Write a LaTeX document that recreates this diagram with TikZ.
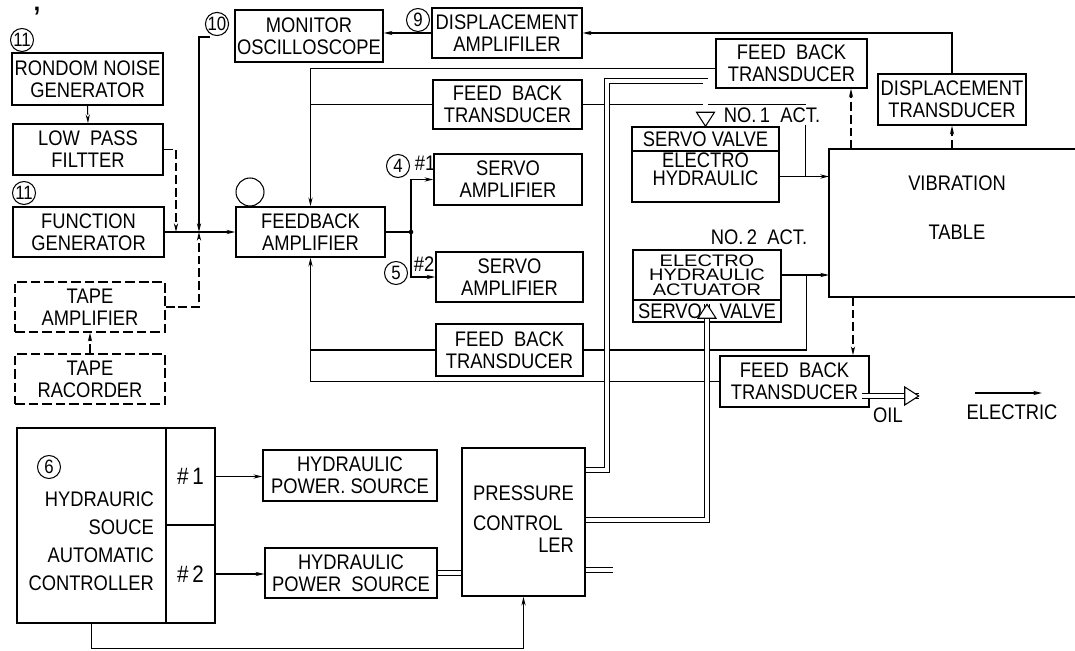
\documentclass[tikz,border=0pt]{standalone}
\usepackage{fontspec}
\newfontfamily\diafont{Liberation Sans}[FakeStretch=0.87]
\newfontfamily\widefont{Liberation Sans}[FakeStretch=1.2]
\usetikzlibrary{positioning,arrows.meta,calc}
\newcommand{\blkfont}{\diafont\fontsize{12}{12.5}\selectfont}

\begin{document}
\begin{tikzpicture}[x=0.02cm, y=-0.02cm,
    blk/.style={draw, line width=0.85pt, align=center, inner sep=0pt, font=\blkfont},
    dblk/.style={blk, dash pattern=on 5.5pt off 2.2pt},
    sz/.style 2 args={minimum width=#1*0.02cm, minimum height=#2*0.02cm},
    num/.style={circle, draw, line width=0.6pt, minimum size=0.46cm, inner sep=0pt, font=\diafont\fontsize{11}{11}\selectfont},
    lbl/.style={inner sep=1pt, font=\blkfont},
    wire/.style={line width=0.6pt},
    sig/.style={wire, -{Stealth[length=5pt,width=2.4pt]}},
    dsig/.style={sig, dash pattern=on 5pt off 2.2pt},
    oil/.style={double, double distance=2.4pt, line width=0.5pt},
    oilhd/.pic={\draw[line width=0.6pt, fill=white] (0,0) -- (-14,-9) -- (-14,9) -- cycle;}]
    \useasboundingbox (0,0) rectangle (1075,651);

    % Sorgenti di segnale
    \node[num] (n11a) at (22,40) {11};
    \node[inner sep=0pt, font=\diafont\bfseries\fontsize{16}{16}\selectfont] (prm) at (37,17) {’};
    \node[blk, sz={151}{52}] (noise) at (87.5,79) {RONDOM NOISE\\GENERATOR};
    \node[blk, sz={150}{51}] (lpf) at (88,149.5) {LOW\ \ PASS\\FILTTER};
    \node[num] (n11b) at (24,193) {11};
    \node[blk, sz={151}{50}] (fgen) at (88.5,232) {FUNCTION\\GENERATOR};
    \node[dblk, sz={150}{50}] (tamp) at (90,307) {TAPE\\AMPLIFIER};
    \node[dblk, sz={150}{50}] (trec) at (90,379) {TAPE\\RACORDER};
    \coordinate (jl) at (176,232);
    \coordinate (jm) at (199,232);
    \coordinate (mtap) at (210,37);

    \draw[dsig] (noise.south) -- (lpf.north);
    \draw[dsig] (trec.north) -- (tamp.south);
    \draw[dsig] (lpf.east) -| (jl);
    \draw[dsig] (tamp.east) -| (jm);
    \draw[sig] (mtap) -| (jm);

    % Monitor e spostamento
    \node[num] (n10) at (217,24) {10};
    \node[blk, sz={148}{52}] (mon) at (309,36) {MONITOR\\OSCILLOSCOPE};
    \node[num] (n9) at (418,20) {9};
    \node[blk, sz={150}{50}] (damp) at (507,33) {DISPLACEMENT\\AMPLIFILER};
    \draw[sig] (damp.west) -- (damp.west -| mon.east);

    % Amplificatore di retroazione
    \node[blk, sz={149}{50}] (fba) at (310.5,232) {FEEDBACK\\AMPLIFIER};
    \node[num, minimum size=0.56cm] (n0) at (250,192) {};
    \draw[sig] (fgen.east) -- (fba.west);

    % Trasduttori di retroazione
    \node[blk, sz={151}{49}] (fbt3) at (791.5,63.5) {FEED\ \ BACK\\TRANSDUCER};
    \node[blk, sz={149}{49}] (fbt1) at (507.5,104.5) {FEED\ \ BACK\\TRANSDUCER};
    \node[blk, sz={147}{52}] (fbt2) at (509.5,350) {FEED\ \ BACK\\TRANSDUCER};
    \node[blk, sz={149}{51}] (fbt4) at (794.5,381.5) {FEED\ \ BACK\\TRANSDUCER};
    \node[blk, sz={148}{51}] (dtr) at (952,99.5) {DISPLACEMENT\\TRANSDUCER};

    % Servoamplificatori
    \coordinate (jf) at (411,232);
    \node[blk, sz={148}{51}] (sa1) at (508,179.5) {SERVO\\AMPLIFIER};
    \node[blk, sz={147}{50}] (sa2) at (509.5,277) {SERVO\\AMPLIFIER};
    \node[num] (n4) at (398,166) {4};
    \node[lbl] (h1) at (425,163) {\#1};
    \node[num] (n5) at (396,273) {5};
    \node[lbl] (h2) at (424,264) {\#2};
    \draw[wire] (fba.east) -- (jf);
    \fill (jf) circle (1.3pt);
    \draw[sig] (jf) |- (sa1.west);
    \draw[sig] (jf) |- (sa2.west);

    % Attuatori
    \node[blk, sz={147}{24}] (sv1) at (705.5,139) {SERVO VALVE};
    \node[blk, sz={147}{51}, font=\diafont\fontsize{12}{10.5}\selectfont] (eh1) at (705.5,176.5) {ELECTRO\\HYDRAULIC\rule[-8.6pt]{0pt}{0pt}};
    \node[blk, sz={148}{50}, font=\widefont\fontsize{9.5}{8.2}\selectfont] (eh2) at (707,275) {ELECTRO\\HYDRAULIC\\ACTUATOR};
    \node[blk, sz={148}{22}] (sv2) at (707,311) {SERVO\hspace{10pt}VALVE};
    \node[lbl] (act1) at (772,115) {NO.\,1\ \ ACT.};
    \node[lbl] (act2) at (759,237) {NO.\,2\ \ ACT.};

    % Tavola vibrante
    \draw[line width=0.85pt] (1075,149) -| (829,297) -- (1075,297);
    \coordinate (tbl) at (829,149);
    \coordinate (tblb) at (829,297);
    \node[lbl, align=center] (vt) at (957,208) {VIBRATION\\[15.5pt]TABLE};

    \draw[sig] (eh1.east) -- (eh1.east -| tbl);
    \draw[sig] (eh2.east) -- (eh2.east -| tbl);
    \draw[dsig] ([xshift=0.44cm]tbl) -- ([xshift=0.44cm]tbl |- fbt3.south);
    \draw[dsig] (dtr.south |- tbl) -- (dtr.south);
    \draw[dsig] ([xshift=0.48cm]tblb) -- ([xshift=0.48cm]tblb |- fbt4.north);

    % Anelli di retroazione
    \coordinate (t1) at ([xshift=0.52cm]eh1.east);
    \draw[sig] (dtr.north) |- (damp.east);
    \draw[sig] ([yshift=-0.1cm]fbt3.west) -| (fba.north);
    \draw[wire] (fbt1.west) -- (fbt1.west -| fba.north);
    \draw[wire] (fbt1.east) -- (fbt1.east -| t1);
    \draw[wire] (t1 |- act1.south) -- (t1);
    \draw[wire] (fbt2.east) -| ([xshift=0.5cm]eh2.east);
    \draw[wire] (fbt2.west) -- (fbt2.west -| fba.south);
    \draw[sig] (fbt4.west) -| (fba.south);

    % Centrale idraulica
    \node[blk, sz={149}{195}] (hsac) at (91.5,525.5) {};
    \node[blk, sz={49}{97}, font=\diafont\fontsize{13.5}{13.5}\selectfont] (hs1) at (190.5,476.5) {\#\,1};
    \node[blk, sz={49}{98}, font=\diafont\fontsize{13.5}{13.5}\selectfont] (hs2) at (190.5,574) {\#\,2};
    \node[num] (n6) at (49,467) {6};
    \node[lbl, align=right, anchor=east, font=\diafont\fontsize{12}{16}\selectfont] (hstxt) at (156,541) {HYDRAURIC\\SOUCE\\AUTOMATIC\\CONTROLLER};
    \node[blk, sz={174}{51}] (hps1) at (350,475.5) {HYDRAULIC\\POWER. SOURCE};
    \node[blk, sz={172}{50}] (hps2) at (351,573) {HYDRAULIC\\POWER\ \ SOURCE};
    \node[blk, sz={123}{148}] (pc) at (523.5,522) {\begin{tabular}{@{}l@{}}PRESSURE\\[4.5pt]CONTROL\\\multicolumn{1}{@{}r@{}}{LER}\end{tabular}};

    \draw[sig] (hs1.east) -- (hs1.east -| hps1.west);
    \draw[sig] (hs2.east) -- (hs2.east -| hps2.west);
    \draw[sig] (hsac.south) -- ++(0,25) -| (pc.south);
    \draw[oil] (hps1.east) -- (hps1.east -| pc.west);
    \draw[oil] (hps2.east) -- (hps2.east -| pc.west);
    \coordinate (p1) at (607,81);
    \draw[oil] ([yshift=1.04cm]pc.east) -| (p1) -| (sv1.north);
    \pic[rotate=-90] at (sv1.north) {oilhd};
    \draw[oil] ([yshift=0.04cm]pc.east) -| ([yshift=-0.1cm]sv2.north);
    \pic[rotate=90] at ([yshift=-0.1cm]sv2.north) {oilhd};
    \draw[oil] ([yshift=-0.96cm]pc.east) -- ++(27,0);

    % Legenda
    \draw[oil] ([xshift=-0.16cm, yshift=-0.29cm]fbt4.east) coordinate (o0) -- ++(57,0) coordinate (o1);
    \pic at (o1) {oilhd};
    \node[lbl] (oil) at (888,415) {OIL};
    \coordinate (e0) at (975,393);
    \draw[sig] (e0) -- ++(67,0);
    \node[lbl] (elec) at (1012,412) {ELECTRIC};
\end{tikzpicture}
\end{document}
